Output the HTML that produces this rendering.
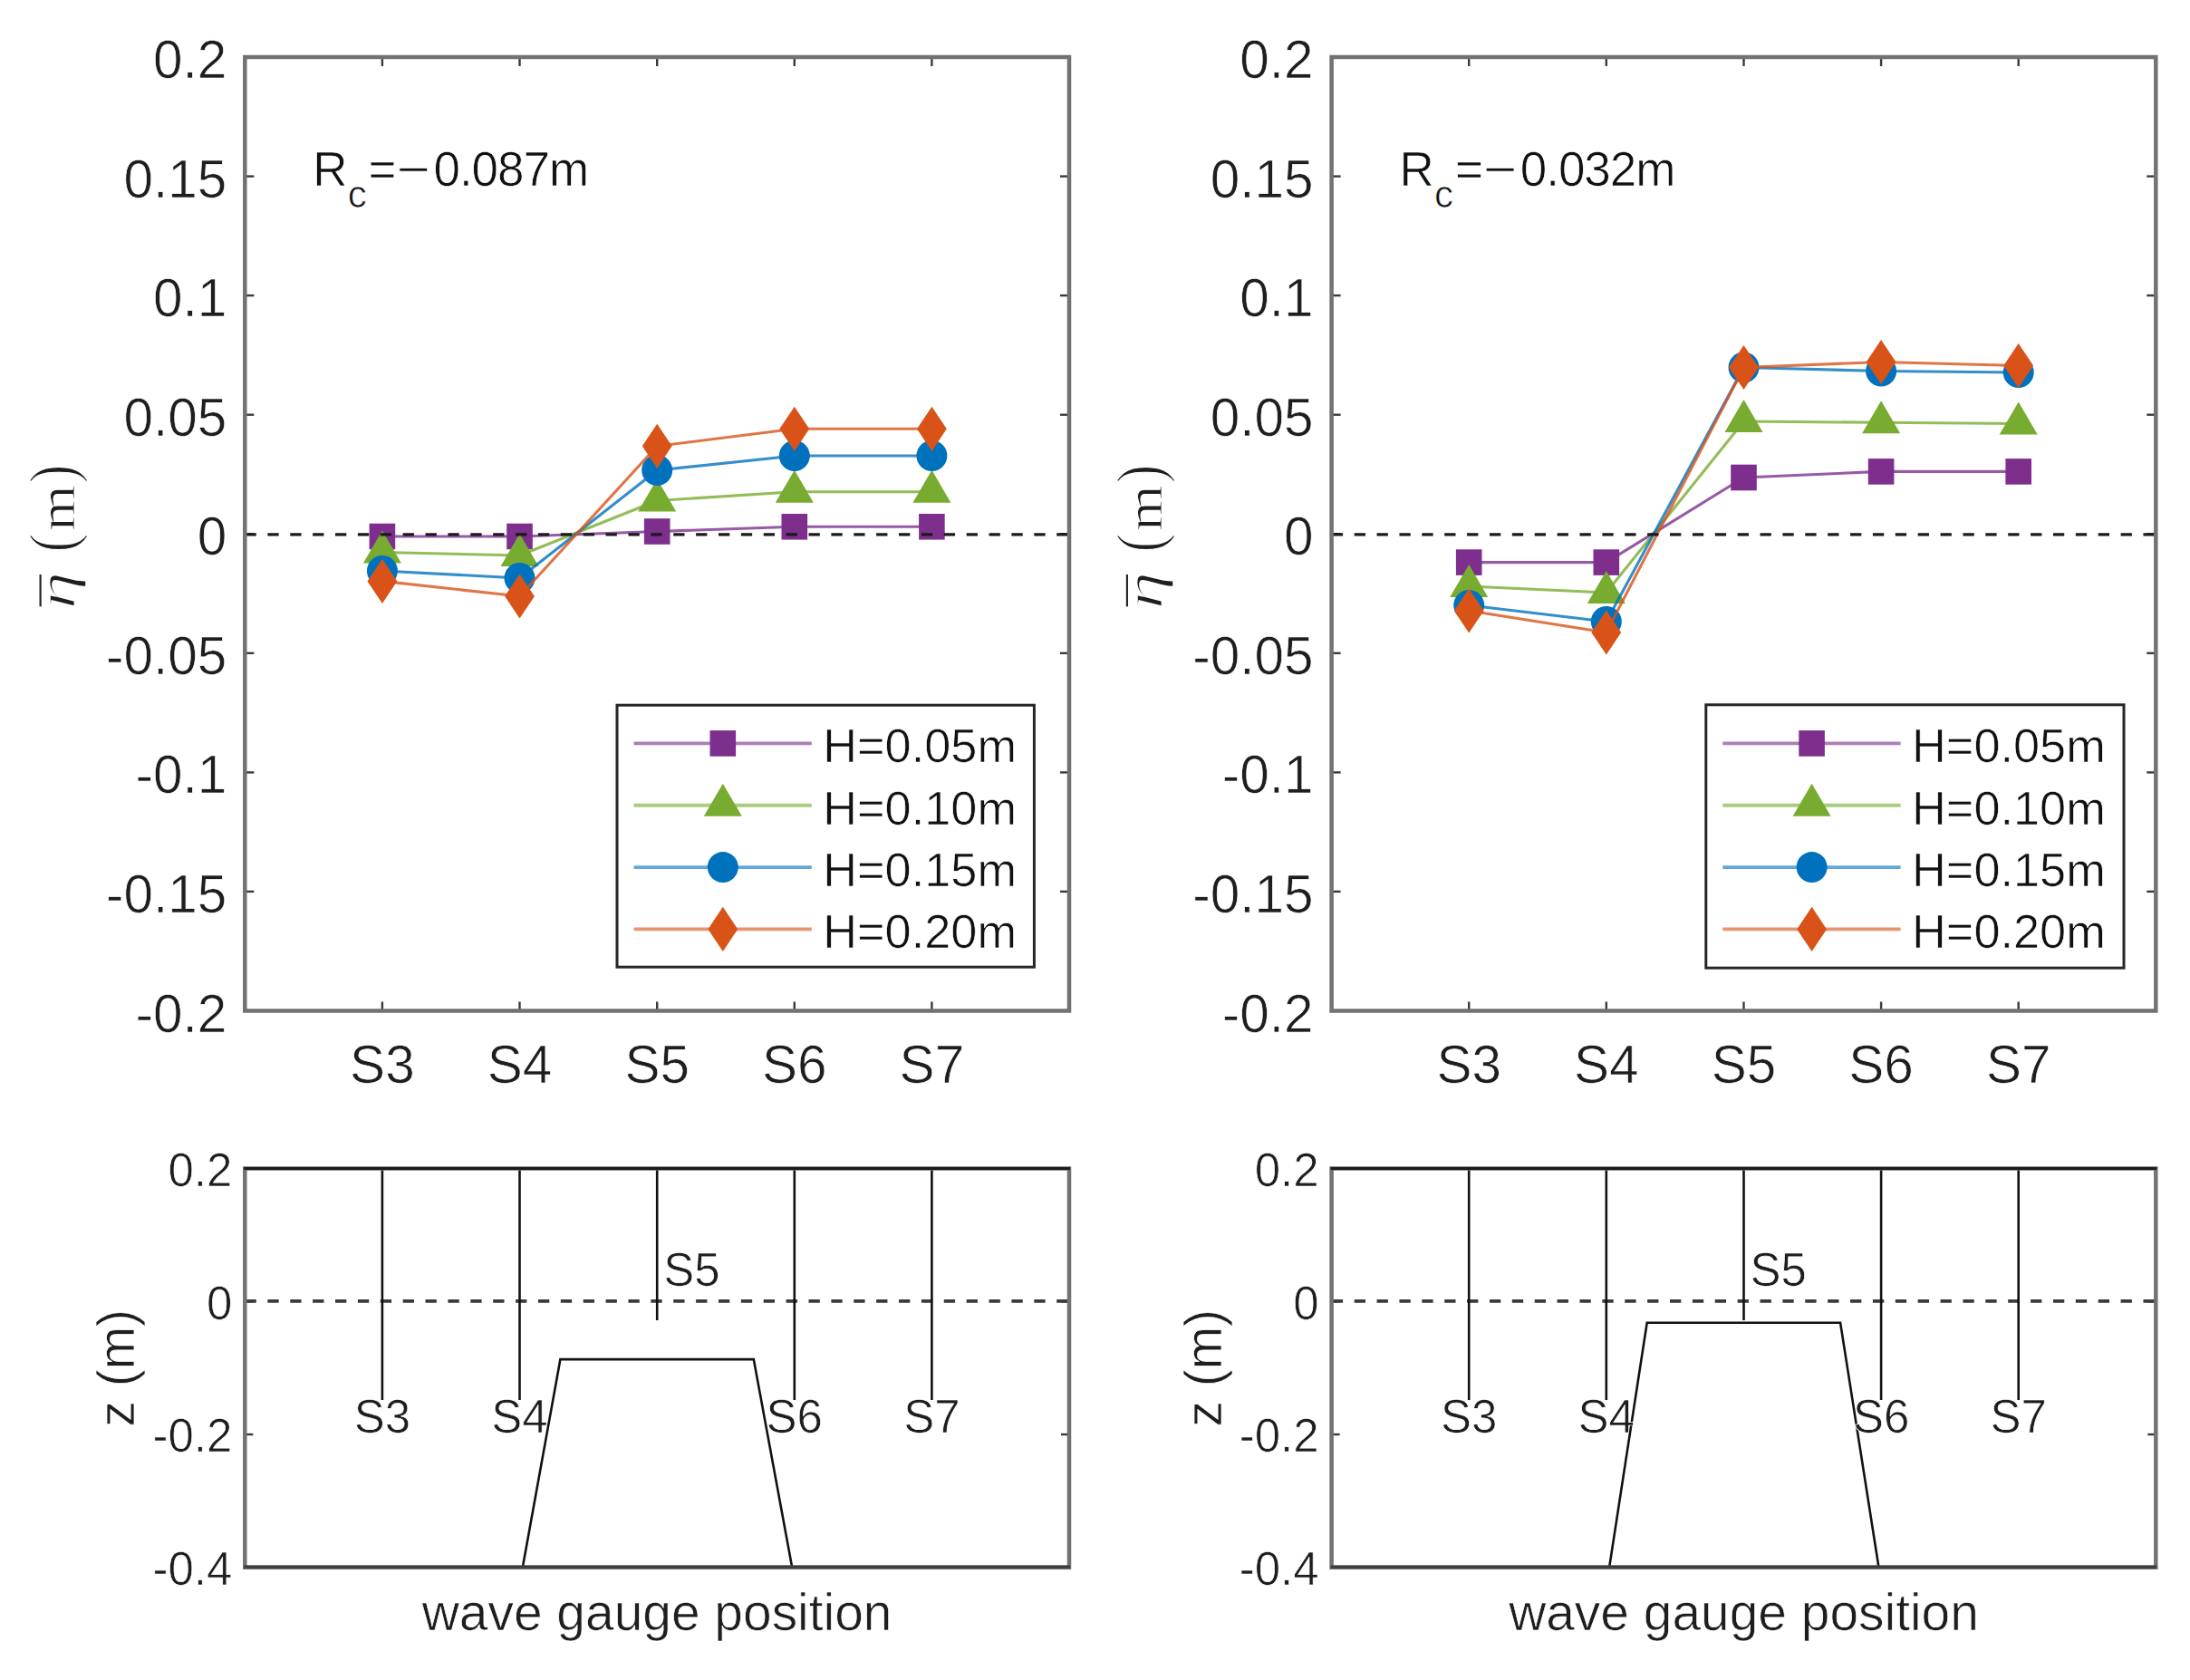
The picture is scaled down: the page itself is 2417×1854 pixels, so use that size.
<!DOCTYPE html>
<html><head><meta charset="utf-8"><title>Figure</title><style>html,body{margin:0;padding:0;background:#fff;overflow:hidden}svg{display:block}</style></head><body>
<svg width="2417" height="1854" viewBox="0 0 2417 1854">
<style>text{font-family:"Liberation Sans",Arial,Helvetica,sans-serif;fill:#1e1e1e;stroke:#fff;stroke-width:0.7px}.tk{font-size:58.5px}.bt{font-size:51px}.lg{font-size:52.3px;fill:#111}.rc{font-size:53px;fill:#111}.rcs{font-size:42px;fill:#111}.xl{font-size:56.9px}.yl{font-family:"Liberation Serif","DejaVu Serif",serif;font-size:64px;fill:#1e1e1e;stroke:#fff;stroke-width:0.9px}</style>
<rect width="2417" height="1854" fill="#fff"/>
<line x1="270.3" y1="1115.5" x2="280.3" y2="1115.5" stroke="#3a3a3a" stroke-width="2.4"/>
<line x1="1180.0" y1="1115.5" x2="1170.0" y2="1115.5" stroke="#3a3a3a" stroke-width="2.4"/>
<text x="250.3" y="1138.5" text-anchor="end" class="tk">-0.2</text>
<line x1="270.3" y1="983.9" x2="280.3" y2="983.9" stroke="#3a3a3a" stroke-width="2.4"/>
<line x1="1180.0" y1="983.9" x2="1170.0" y2="983.9" stroke="#3a3a3a" stroke-width="2.4"/>
<text x="250.3" y="1006.9" text-anchor="end" class="tk">-0.15</text>
<line x1="270.3" y1="852.4" x2="280.3" y2="852.4" stroke="#3a3a3a" stroke-width="2.4"/>
<line x1="1180.0" y1="852.4" x2="1170.0" y2="852.4" stroke="#3a3a3a" stroke-width="2.4"/>
<text x="250.3" y="875.4" text-anchor="end" class="tk">-0.1</text>
<line x1="270.3" y1="720.8" x2="280.3" y2="720.8" stroke="#3a3a3a" stroke-width="2.4"/>
<line x1="1180.0" y1="720.8" x2="1170.0" y2="720.8" stroke="#3a3a3a" stroke-width="2.4"/>
<text x="250.3" y="743.8" text-anchor="end" class="tk">-0.05</text>
<line x1="270.3" y1="589.2" x2="280.3" y2="589.2" stroke="#3a3a3a" stroke-width="2.4"/>
<line x1="1180.0" y1="589.2" x2="1170.0" y2="589.2" stroke="#3a3a3a" stroke-width="2.4"/>
<text x="250.3" y="612.2" text-anchor="end" class="tk">0</text>
<line x1="270.3" y1="457.7" x2="280.3" y2="457.7" stroke="#3a3a3a" stroke-width="2.4"/>
<line x1="1180.0" y1="457.7" x2="1170.0" y2="457.7" stroke="#3a3a3a" stroke-width="2.4"/>
<text x="250.3" y="480.7" text-anchor="end" class="tk">0.05</text>
<line x1="270.3" y1="326.1" x2="280.3" y2="326.1" stroke="#3a3a3a" stroke-width="2.4"/>
<line x1="1180.0" y1="326.1" x2="1170.0" y2="326.1" stroke="#3a3a3a" stroke-width="2.4"/>
<text x="250.3" y="349.1" text-anchor="end" class="tk">0.1</text>
<line x1="270.3" y1="194.6" x2="280.3" y2="194.6" stroke="#3a3a3a" stroke-width="2.4"/>
<line x1="1180.0" y1="194.6" x2="1170.0" y2="194.6" stroke="#3a3a3a" stroke-width="2.4"/>
<text x="250.3" y="217.6" text-anchor="end" class="tk">0.15</text>
<line x1="270.3" y1="63.0" x2="280.3" y2="63.0" stroke="#3a3a3a" stroke-width="2.4"/>
<line x1="1180.0" y1="63.0" x2="1170.0" y2="63.0" stroke="#3a3a3a" stroke-width="2.4"/>
<text x="250.3" y="86.0" text-anchor="end" class="tk">0.2</text>
<line x1="421.9" y1="1115.5" x2="421.9" y2="1105.5" stroke="#3a3a3a" stroke-width="2.4"/>
<line x1="421.9" y1="63.0" x2="421.9" y2="73.0" stroke="#3a3a3a" stroke-width="2.4"/>
<text x="421.9" y="1194.8" text-anchor="middle" class="tk">S3</text>
<line x1="573.5" y1="1115.5" x2="573.5" y2="1105.5" stroke="#3a3a3a" stroke-width="2.4"/>
<line x1="573.5" y1="63.0" x2="573.5" y2="73.0" stroke="#3a3a3a" stroke-width="2.4"/>
<text x="573.5" y="1194.8" text-anchor="middle" class="tk">S4</text>
<line x1="725.2" y1="1115.5" x2="725.2" y2="1105.5" stroke="#3a3a3a" stroke-width="2.4"/>
<line x1="725.2" y1="63.0" x2="725.2" y2="73.0" stroke="#3a3a3a" stroke-width="2.4"/>
<text x="725.2" y="1194.8" text-anchor="middle" class="tk">S5</text>
<line x1="876.8" y1="1115.5" x2="876.8" y2="1105.5" stroke="#3a3a3a" stroke-width="2.4"/>
<line x1="876.8" y1="63.0" x2="876.8" y2="73.0" stroke="#3a3a3a" stroke-width="2.4"/>
<text x="876.8" y="1194.8" text-anchor="middle" class="tk">S6</text>
<line x1="1028.4" y1="1115.5" x2="1028.4" y2="1105.5" stroke="#3a3a3a" stroke-width="2.4"/>
<line x1="1028.4" y1="63.0" x2="1028.4" y2="73.0" stroke="#3a3a3a" stroke-width="2.4"/>
<text x="1028.4" y="1194.8" text-anchor="middle" class="tk">S7</text>
<polyline points="421.9,592.0 573.5,592.0 725.2,586.5 876.8,581.3 1028.4,581.3" fill="none" stroke="#7E2F8E" stroke-width="3.1" stroke-opacity="0.8" stroke-linejoin="round"/>
<rect x="407.6" y="577.7" width="28.6" height="28.6" fill="#7E2F8E"/>
<rect x="559.2" y="577.7" width="28.6" height="28.6" fill="#7E2F8E"/>
<rect x="710.9" y="572.2" width="28.6" height="28.6" fill="#7E2F8E"/>
<rect x="862.5" y="567.0" width="28.6" height="28.6" fill="#7E2F8E"/>
<rect x="1014.1" y="567.0" width="28.6" height="28.6" fill="#7E2F8E"/>
<polyline points="421.9,609.5 573.5,613.0 725.2,552.5 876.8,542.8 1028.4,542.8" fill="none" stroke="#77AC30" stroke-width="3.1" stroke-opacity="0.8" stroke-linejoin="round"/>
<polygon points="421.9,585.5 442.9,621.5 400.9,621.5" fill="#77AC30"/>
<polygon points="573.5,589.0 594.5,625.0 552.5,625.0" fill="#77AC30"/>
<polygon points="725.2,528.5 746.2,564.5 704.2,564.5" fill="#77AC30"/>
<polygon points="876.8,518.8 897.8,554.8 855.8,554.8" fill="#77AC30"/>
<polygon points="1028.4,518.8 1049.4,554.8 1007.4,554.8" fill="#77AC30"/>
<polyline points="421.9,630.0 573.5,638.0 725.2,519.0 876.8,503.0 1028.4,503.0" fill="none" stroke="#0072BD" stroke-width="3.1" stroke-opacity="0.8" stroke-linejoin="round"/>
<circle cx="421.9" cy="630.0" r="17.0" fill="#0072BD"/>
<circle cx="573.5" cy="638.0" r="17.0" fill="#0072BD"/>
<circle cx="725.2" cy="519.0" r="17.0" fill="#0072BD"/>
<circle cx="876.8" cy="503.0" r="17.0" fill="#0072BD"/>
<circle cx="1028.4" cy="503.0" r="17.0" fill="#0072BD"/>
<polyline points="421.9,641.4 573.5,658.0 725.2,492.3 876.8,473.3 1028.4,473.3" fill="none" stroke="#D95319" stroke-width="3.1" stroke-opacity="0.8" stroke-linejoin="round"/>
<polygon points="421.9,616.8 438.3,641.4 421.9,666.0 405.5,641.4" fill="#D95319"/>
<polygon points="573.5,633.4 589.9,658.0 573.5,682.6 557.1,658.0" fill="#D95319"/>
<polygon points="725.2,467.7 741.6,492.3 725.2,516.9 708.8,492.3" fill="#D95319"/>
<polygon points="876.8,448.7 893.2,473.3 876.8,497.9 860.4,473.3" fill="#D95319"/>
<polygon points="1028.4,448.7 1044.8,473.3 1028.4,497.9 1012.0,473.3" fill="#D95319"/>
<line x1="270.5" y1="589.8" x2="1180.0" y2="589.8" stroke="#1a1a1a" stroke-width="3.3" stroke-dasharray="12.3 12.58"/>
<text x="345.2" y="204.7" class="rc">R</text>
<text x="383.8" y="229.0" class="rcs">c</text>
<text x="406.6" y="204.7" class="rc">=</text>
<text transform="translate(438.0,204.7) scale(1.2,1)" class="rc">−</text>
<text x="478.5" y="204.7" class="rc" letter-spacing="-1.05">0.087m</text>
<rect x="681.0" y="778.2" width="460.4" height="289.0" fill="#fff" stroke="#262626" stroke-width="3"/>
<line x1="699.5" y1="820.4" x2="895.8" y2="820.4" stroke="#7E2F8E" stroke-width="3.9000000000000004" stroke-opacity="0.62"/>
<rect x="783.5" y="806.1" width="28.6" height="28.6" fill="#7E2F8E"/>
<text x="908.3" y="841.4" class="lg">H=0.05m</text>
<line x1="699.5" y1="888.8" x2="895.8" y2="888.8" stroke="#77AC30" stroke-width="3.9000000000000004" stroke-opacity="0.62"/>
<polygon points="797.8,864.8 818.8,900.8 776.8,900.8" fill="#77AC30"/>
<text x="908.3" y="909.8" class="lg">H=0.10m</text>
<line x1="699.5" y1="957.1" x2="895.8" y2="957.1" stroke="#0072BD" stroke-width="3.9000000000000004" stroke-opacity="0.62"/>
<circle cx="797.8" cy="957.1" r="17.0" fill="#0072BD"/>
<text x="908.3" y="978.1" class="lg">H=0.15m</text>
<line x1="699.5" y1="1025.4" x2="895.8" y2="1025.4" stroke="#D95319" stroke-width="3.9000000000000004" stroke-opacity="0.62"/>
<polygon points="797.8,1000.8 814.2,1025.4 797.8,1050.0 781.4,1025.4" fill="#D95319"/>
<text x="908.3" y="1046.4" class="lg">H=0.20m</text>
<rect x="270.3" y="63.0" width="909.7" height="1052.5" fill="none" stroke="#727272" stroke-width="4.5"/>
<line x1="1469.6" y1="1115.5" x2="1479.6" y2="1115.5" stroke="#3a3a3a" stroke-width="2.4"/>
<line x1="2379.3" y1="1115.5" x2="2369.3" y2="1115.5" stroke="#3a3a3a" stroke-width="2.4"/>
<text x="1449.6" y="1138.5" text-anchor="end" class="tk">-0.2</text>
<line x1="1469.6" y1="983.9" x2="1479.6" y2="983.9" stroke="#3a3a3a" stroke-width="2.4"/>
<line x1="2379.3" y1="983.9" x2="2369.3" y2="983.9" stroke="#3a3a3a" stroke-width="2.4"/>
<text x="1449.6" y="1006.9" text-anchor="end" class="tk">-0.15</text>
<line x1="1469.6" y1="852.4" x2="1479.6" y2="852.4" stroke="#3a3a3a" stroke-width="2.4"/>
<line x1="2379.3" y1="852.4" x2="2369.3" y2="852.4" stroke="#3a3a3a" stroke-width="2.4"/>
<text x="1449.6" y="875.4" text-anchor="end" class="tk">-0.1</text>
<line x1="1469.6" y1="720.8" x2="1479.6" y2="720.8" stroke="#3a3a3a" stroke-width="2.4"/>
<line x1="2379.3" y1="720.8" x2="2369.3" y2="720.8" stroke="#3a3a3a" stroke-width="2.4"/>
<text x="1449.6" y="743.8" text-anchor="end" class="tk">-0.05</text>
<line x1="1469.6" y1="589.2" x2="1479.6" y2="589.2" stroke="#3a3a3a" stroke-width="2.4"/>
<line x1="2379.3" y1="589.2" x2="2369.3" y2="589.2" stroke="#3a3a3a" stroke-width="2.4"/>
<text x="1449.6" y="612.2" text-anchor="end" class="tk">0</text>
<line x1="1469.6" y1="457.7" x2="1479.6" y2="457.7" stroke="#3a3a3a" stroke-width="2.4"/>
<line x1="2379.3" y1="457.7" x2="2369.3" y2="457.7" stroke="#3a3a3a" stroke-width="2.4"/>
<text x="1449.6" y="480.7" text-anchor="end" class="tk">0.05</text>
<line x1="1469.6" y1="326.1" x2="1479.6" y2="326.1" stroke="#3a3a3a" stroke-width="2.4"/>
<line x1="2379.3" y1="326.1" x2="2369.3" y2="326.1" stroke="#3a3a3a" stroke-width="2.4"/>
<text x="1449.6" y="349.1" text-anchor="end" class="tk">0.1</text>
<line x1="1469.6" y1="194.6" x2="1479.6" y2="194.6" stroke="#3a3a3a" stroke-width="2.4"/>
<line x1="2379.3" y1="194.6" x2="2369.3" y2="194.6" stroke="#3a3a3a" stroke-width="2.4"/>
<text x="1449.6" y="217.6" text-anchor="end" class="tk">0.15</text>
<line x1="1469.6" y1="63.0" x2="1479.6" y2="63.0" stroke="#3a3a3a" stroke-width="2.4"/>
<line x1="2379.3" y1="63.0" x2="2369.3" y2="63.0" stroke="#3a3a3a" stroke-width="2.4"/>
<text x="1449.6" y="86.0" text-anchor="end" class="tk">0.2</text>
<line x1="1621.2" y1="1115.5" x2="1621.2" y2="1105.5" stroke="#3a3a3a" stroke-width="2.4"/>
<line x1="1621.2" y1="63.0" x2="1621.2" y2="73.0" stroke="#3a3a3a" stroke-width="2.4"/>
<text x="1621.2" y="1194.8" text-anchor="middle" class="tk">S3</text>
<line x1="1772.8" y1="1115.5" x2="1772.8" y2="1105.5" stroke="#3a3a3a" stroke-width="2.4"/>
<line x1="1772.8" y1="63.0" x2="1772.8" y2="73.0" stroke="#3a3a3a" stroke-width="2.4"/>
<text x="1772.8" y="1194.8" text-anchor="middle" class="tk">S4</text>
<line x1="1924.5" y1="1115.5" x2="1924.5" y2="1105.5" stroke="#3a3a3a" stroke-width="2.4"/>
<line x1="1924.5" y1="63.0" x2="1924.5" y2="73.0" stroke="#3a3a3a" stroke-width="2.4"/>
<text x="1924.5" y="1194.8" text-anchor="middle" class="tk">S5</text>
<line x1="2076.1" y1="1115.5" x2="2076.1" y2="1105.5" stroke="#3a3a3a" stroke-width="2.4"/>
<line x1="2076.1" y1="63.0" x2="2076.1" y2="73.0" stroke="#3a3a3a" stroke-width="2.4"/>
<text x="2076.1" y="1194.8" text-anchor="middle" class="tk">S6</text>
<line x1="2227.7" y1="1115.5" x2="2227.7" y2="1105.5" stroke="#3a3a3a" stroke-width="2.4"/>
<line x1="2227.7" y1="63.0" x2="2227.7" y2="73.0" stroke="#3a3a3a" stroke-width="2.4"/>
<text x="2227.7" y="1194.8" text-anchor="middle" class="tk">S7</text>
<polyline points="1621.2,620.6 1772.8,620.6 1924.5,527.0 2076.1,520.4 2227.7,520.4" fill="none" stroke="#7E2F8E" stroke-width="3.1" stroke-opacity="0.8" stroke-linejoin="round"/>
<rect x="1606.9" y="606.3" width="28.6" height="28.6" fill="#7E2F8E"/>
<rect x="1758.5" y="606.3" width="28.6" height="28.6" fill="#7E2F8E"/>
<rect x="1910.2" y="512.7" width="28.6" height="28.6" fill="#7E2F8E"/>
<rect x="2061.8" y="506.1" width="28.6" height="28.6" fill="#7E2F8E"/>
<rect x="2213.4" y="506.1" width="28.6" height="28.6" fill="#7E2F8E"/>
<polyline points="1621.2,647.0 1772.8,654.0 1924.5,465.0 2076.1,466.3 2227.7,467.5" fill="none" stroke="#77AC30" stroke-width="3.1" stroke-opacity="0.8" stroke-linejoin="round"/>
<polygon points="1621.2,623.0 1642.2,659.0 1600.2,659.0" fill="#77AC30"/>
<polygon points="1772.8,630.0 1793.8,666.0 1751.8,666.0" fill="#77AC30"/>
<polygon points="1924.5,441.0 1945.5,477.0 1903.5,477.0" fill="#77AC30"/>
<polygon points="2076.1,442.3 2097.1,478.3 2055.1,478.3" fill="#77AC30"/>
<polygon points="2227.7,443.5 2248.7,479.5 2206.7,479.5" fill="#77AC30"/>
<polyline points="1621.2,668.0 1772.8,686.0 1924.5,405.5 2076.1,409.5 2227.7,411.0" fill="none" stroke="#0072BD" stroke-width="3.1" stroke-opacity="0.8" stroke-linejoin="round"/>
<circle cx="1621.2" cy="668.0" r="17.0" fill="#0072BD"/>
<circle cx="1772.8" cy="686.0" r="17.0" fill="#0072BD"/>
<circle cx="1924.5" cy="405.5" r="17.0" fill="#0072BD"/>
<circle cx="2076.1" cy="409.5" r="17.0" fill="#0072BD"/>
<circle cx="2227.7" cy="411.0" r="17.0" fill="#0072BD"/>
<polyline points="1621.2,674.0 1772.8,698.0 1924.5,405.5 2076.1,399.5 2227.7,403.5" fill="none" stroke="#D95319" stroke-width="3.1" stroke-opacity="0.8" stroke-linejoin="round"/>
<polygon points="1621.2,649.4 1637.6,674.0 1621.2,698.6 1604.8,674.0" fill="#D95319"/>
<polygon points="1772.8,673.4 1789.2,698.0 1772.8,722.6 1756.4,698.0" fill="#D95319"/>
<polygon points="1924.5,380.9 1940.9,405.5 1924.5,430.1 1908.0,405.5" fill="#D95319"/>
<polygon points="2076.1,374.9 2092.5,399.5 2076.1,424.1 2059.7,399.5" fill="#D95319"/>
<polygon points="2227.7,378.9 2244.1,403.5 2227.7,428.1 2211.3,403.5" fill="#D95319"/>
<line x1="1469.8" y1="589.8" x2="2379.3" y2="589.8" stroke="#1a1a1a" stroke-width="3.3" stroke-dasharray="12.3 12.58"/>
<text x="1544.5" y="204.7" class="rc">R</text>
<text x="1583.1" y="229.0" class="rcs">c</text>
<text x="1605.9" y="204.7" class="rc">=</text>
<text transform="translate(1637.3,204.7) scale(1.2,1)" class="rc">−</text>
<text x="1677.8" y="204.7" class="rc" letter-spacing="-1.05">0.032m</text>
<rect x="1882.8" y="777.8" width="461.2" height="290.4" fill="#fff" stroke="#262626" stroke-width="3"/>
<line x1="1901.3" y1="820.4" x2="2097.6" y2="820.4" stroke="#7E2F8E" stroke-width="3.9000000000000004" stroke-opacity="0.62"/>
<rect x="1985.3" y="806.1" width="28.6" height="28.6" fill="#7E2F8E"/>
<text x="2110.1" y="841.4" class="lg">H=0.05m</text>
<line x1="1901.3" y1="888.8" x2="2097.6" y2="888.8" stroke="#77AC30" stroke-width="3.9000000000000004" stroke-opacity="0.62"/>
<polygon points="1999.6,864.8 2020.6,900.8 1978.6,900.8" fill="#77AC30"/>
<text x="2110.1" y="909.8" class="lg">H=0.10m</text>
<line x1="1901.3" y1="957.1" x2="2097.6" y2="957.1" stroke="#0072BD" stroke-width="3.9000000000000004" stroke-opacity="0.62"/>
<circle cx="1999.6" cy="957.1" r="17.0" fill="#0072BD"/>
<text x="2110.1" y="978.1" class="lg">H=0.15m</text>
<line x1="1901.3" y1="1025.4" x2="2097.6" y2="1025.4" stroke="#D95319" stroke-width="3.9000000000000004" stroke-opacity="0.62"/>
<polygon points="1999.6,1000.8 2016.0,1025.4 1999.6,1050.0 1983.2,1025.4" fill="#D95319"/>
<text x="2110.1" y="1046.4" class="lg">H=0.20m</text>
<rect x="1469.6" y="63.0" width="909.7" height="1052.5" fill="none" stroke="#727272" stroke-width="4.5"/>
<text transform="translate(82.2,672.4) rotate(-90) scale(1.420,1)" class="yl" style="font-size:59.5px;stroke-width:1.5px" font-style="italic">η</text>
<text transform="translate(82.2,609.3) rotate(-90) scale(0.840,1)" class="yl" style="font-size:72.1px;stroke-width:1.3px">(</text>
<text transform="translate(82.2,586.1) rotate(-90) scale(1.124,1)" class="yl" style="font-size:58.0px;stroke-width:0.9px">m</text>
<text transform="translate(82.2,532.9) rotate(-90) scale(0.840,1)" class="yl" style="font-size:72.1px;stroke-width:1.3px">)</text>
<line x1="44.6" y1="634" x2="44.6" y2="669.4" stroke="#262626" stroke-width="2.2"/>
<text transform="translate(1281.5,672.4) rotate(-90) scale(1.420,1)" class="yl" style="font-size:59.5px;stroke-width:1.5px" font-style="italic">η</text>
<text transform="translate(1281.5,609.3) rotate(-90) scale(0.840,1)" class="yl" style="font-size:72.1px;stroke-width:1.3px">(</text>
<text transform="translate(1281.5,586.1) rotate(-90) scale(1.124,1)" class="yl" style="font-size:58.0px;stroke-width:0.9px">m</text>
<text transform="translate(1281.5,532.9) rotate(-90) scale(0.840,1)" class="yl" style="font-size:72.1px;stroke-width:1.3px">)</text>
<line x1="1243.9" y1="634" x2="1243.9" y2="669.4" stroke="#262626" stroke-width="2.2"/>
<line x1="270.3" y1="1729.8" x2="279.3" y2="1729.8" stroke="#3a3a3a" stroke-width="2.4"/>
<line x1="1180.0" y1="1729.8" x2="1171.0" y2="1729.8" stroke="#3a3a3a" stroke-width="2.4"/>
<text x="256.3" y="1749.0" text-anchor="end" class="bt">-0.4</text>
<line x1="270.3" y1="1583.0" x2="279.3" y2="1583.0" stroke="#3a3a3a" stroke-width="2.4"/>
<line x1="1180.0" y1="1583.0" x2="1171.0" y2="1583.0" stroke="#3a3a3a" stroke-width="2.4"/>
<text x="256.3" y="1602.2" text-anchor="end" class="bt">-0.2</text>
<line x1="270.3" y1="1436.3" x2="279.3" y2="1436.3" stroke="#3a3a3a" stroke-width="2.4"/>
<line x1="1180.0" y1="1436.3" x2="1171.0" y2="1436.3" stroke="#3a3a3a" stroke-width="2.4"/>
<text x="256.3" y="1455.5" text-anchor="end" class="bt">0</text>
<line x1="270.3" y1="1289.5" x2="279.3" y2="1289.5" stroke="#3a3a3a" stroke-width="2.4"/>
<line x1="1180.0" y1="1289.5" x2="1171.0" y2="1289.5" stroke="#3a3a3a" stroke-width="2.4"/>
<text x="256.3" y="1308.7" text-anchor="end" class="bt">0.2</text>
<line x1="270.5" y1="1435.9" x2="1180.0" y2="1435.9" stroke="#3a3a3a" stroke-width="3.6" stroke-dasharray="12.3 12.58"/>
<line x1="421.9" y1="1289.5" x2="421.9" y2="1545.0" stroke="#111" stroke-width="2.6"/>
<line x1="573.5" y1="1289.5" x2="573.5" y2="1545.0" stroke="#111" stroke-width="2.6"/>
<line x1="725.2" y1="1289.5" x2="725.2" y2="1457.0" stroke="#111" stroke-width="2.6"/>
<line x1="876.8" y1="1289.5" x2="876.8" y2="1545.0" stroke="#111" stroke-width="2.6"/>
<line x1="1028.4" y1="1289.5" x2="1028.4" y2="1545.0" stroke="#111" stroke-width="2.6"/>
<polyline points="576.8,1729.8 618.4,1500.1 831.8,1500.1 874.2,1729.8" fill="none" stroke="#111" stroke-width="2.6"/>
<text x="421.9" y="1581.0" text-anchor="middle" class="bt">S3</text>
<text x="573.5" y="1581.0" text-anchor="middle" class="bt">S4</text>
<text x="732.3" y="1418.8" class="bt">S5</text>
<text x="876.8" y="1581.0" text-anchor="middle" class="bt">S6</text>
<text x="1028.4" y="1581.0" text-anchor="middle" class="bt">S7</text>
<rect x="270.3" y="1289.5" width="909.7" height="440.3" fill="none" stroke="#727272" stroke-width="4.5"/>
<line x1="269.3" y1="1289.5" x2="1181.0" y2="1289.5" stroke="#1c1c1c" stroke-width="2.8"/>
<line x1="269.3" y1="1729.2" x2="1181.0" y2="1729.2" stroke="#3c3c3c" stroke-width="3.2"/>
<text x="725.1" y="1798.8" text-anchor="middle" class="xl">wave gauge position</text>
<text transform="translate(148.3,1509.7) rotate(-90)" text-anchor="middle" class="xl">z (m)</text>
<line x1="1469.6" y1="1729.8" x2="1478.6" y2="1729.8" stroke="#3a3a3a" stroke-width="2.4"/>
<line x1="2379.3" y1="1729.8" x2="2370.3" y2="1729.8" stroke="#3a3a3a" stroke-width="2.4"/>
<text x="1455.6" y="1749.0" text-anchor="end" class="bt">-0.4</text>
<line x1="1469.6" y1="1583.0" x2="1478.6" y2="1583.0" stroke="#3a3a3a" stroke-width="2.4"/>
<line x1="2379.3" y1="1583.0" x2="2370.3" y2="1583.0" stroke="#3a3a3a" stroke-width="2.4"/>
<text x="1455.6" y="1602.2" text-anchor="end" class="bt">-0.2</text>
<line x1="1469.6" y1="1436.3" x2="1478.6" y2="1436.3" stroke="#3a3a3a" stroke-width="2.4"/>
<line x1="2379.3" y1="1436.3" x2="2370.3" y2="1436.3" stroke="#3a3a3a" stroke-width="2.4"/>
<text x="1455.6" y="1455.5" text-anchor="end" class="bt">0</text>
<line x1="1469.6" y1="1289.5" x2="1478.6" y2="1289.5" stroke="#3a3a3a" stroke-width="2.4"/>
<line x1="2379.3" y1="1289.5" x2="2370.3" y2="1289.5" stroke="#3a3a3a" stroke-width="2.4"/>
<text x="1455.6" y="1308.7" text-anchor="end" class="bt">0.2</text>
<line x1="1469.8" y1="1435.9" x2="2379.3" y2="1435.9" stroke="#3a3a3a" stroke-width="3.6" stroke-dasharray="12.3 12.58"/>
<line x1="1621.2" y1="1289.5" x2="1621.2" y2="1545.0" stroke="#111" stroke-width="2.6"/>
<line x1="1772.8" y1="1289.5" x2="1772.8" y2="1545.0" stroke="#111" stroke-width="2.6"/>
<line x1="1924.5" y1="1289.5" x2="1924.5" y2="1457.0" stroke="#111" stroke-width="2.6"/>
<line x1="2076.1" y1="1289.5" x2="2076.1" y2="1545.0" stroke="#111" stroke-width="2.6"/>
<line x1="2227.7" y1="1289.5" x2="2227.7" y2="1545.0" stroke="#111" stroke-width="2.6"/>
<polyline points="1776.1,1729.8 1817.7,1459.7 2031.1,1459.7 2073.5,1729.8" fill="none" stroke="#111" stroke-width="2.6"/>
<text x="1621.2" y="1581.0" text-anchor="middle" class="bt">S3</text>
<text x="1772.8" y="1581.0" text-anchor="middle" class="bt">S4</text>
<text x="1931.6" y="1418.8" class="bt">S5</text>
<text x="2076.1" y="1581.0" text-anchor="middle" class="bt">S6</text>
<text x="2227.7" y="1581.0" text-anchor="middle" class="bt">S7</text>
<rect x="1469.6" y="1289.5" width="909.7" height="440.3" fill="none" stroke="#727272" stroke-width="4.5"/>
<line x1="1468.6" y1="1289.5" x2="2380.3" y2="1289.5" stroke="#1c1c1c" stroke-width="2.8"/>
<line x1="1468.6" y1="1729.2" x2="2380.3" y2="1729.2" stroke="#3c3c3c" stroke-width="3.2"/>
<text x="1924.5" y="1798.8" text-anchor="middle" class="xl">wave gauge position</text>
<text transform="translate(1347.6,1509.7) rotate(-90)" text-anchor="middle" class="xl">z (m)</text>
</svg>
</body></html>
